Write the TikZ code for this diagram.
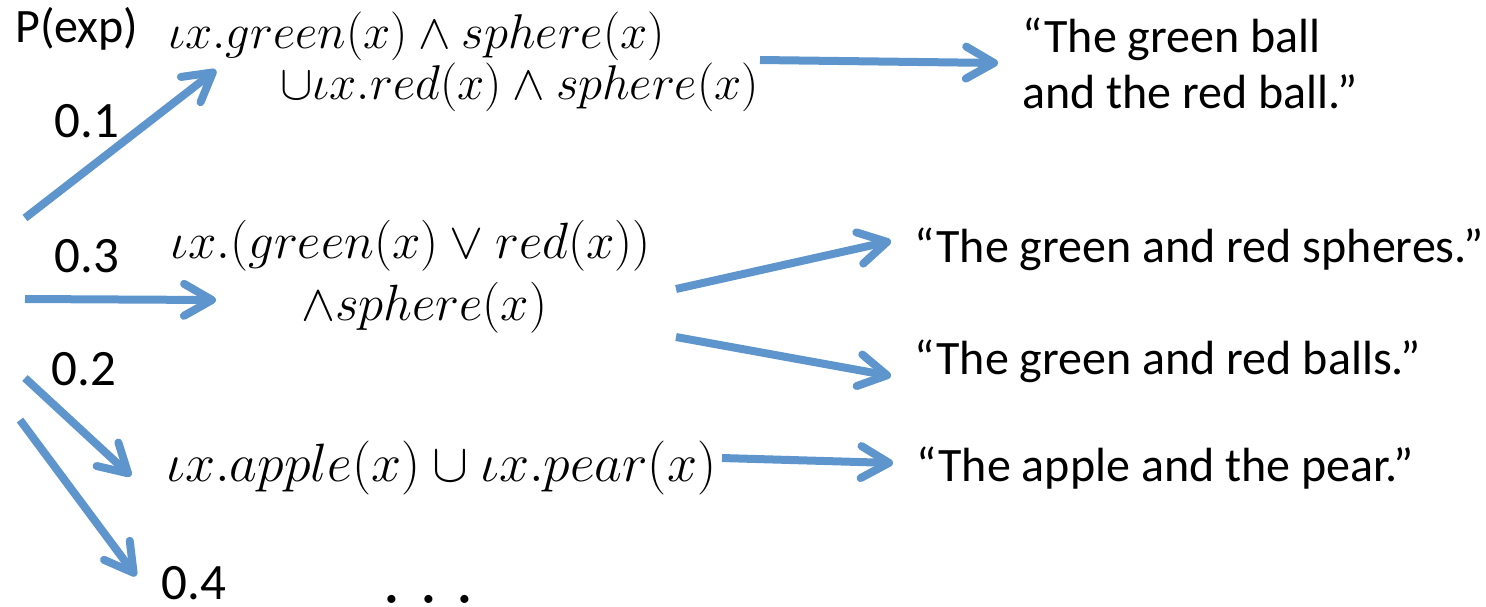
\RequirePackage{fix-cm}
\documentclass[tikz,border=0pt]{standalone}
\usepackage{fontspec}
\setmainfont{Carlito}
\usetikzlibrary{arrows.meta}
\definecolor{arrowblue}{RGB}{94,149,204}
\newcommand{\mformula}[2]{\fontsize{#1}{#1}\selectfont$#2$}
\begin{document}
\begin{tikzpicture}[x=0.5pt,y=-0.5pt,
  lbl/.style={inner sep=0pt, anchor=base west, font=\fontsize{24}{28}\selectfont},
  num/.style={inner sep=0pt, anchor=base west, font=\fontsize{25.5}{28}\selectfont},
  formula/.style={inner sep=0pt, anchor=base west},
  arr/.style={draw=arrowblue, line width=4pt,
    -{Straight Barb[length=14pt,width=16pt,round]},
    preaction={draw=black!35, opacity=0.35, transform canvas={shift={(1pt,-1.2pt)}}}}]
\useasboundingbox (0,0) rectangle (1486,606);
% labels
\node[lbl] (pexp) at (15,42) {P(exp)};
\node[num] (p1) at (54,137) {0.1};
\node[num] (p3) at (54,272) {0.3};
\node[num] (p2) at (51,385) {0.2};
\node[num] (p4) at (161,599) {0.4};
\node[formula] (dots) at (380,603) {\mformula{42}{\ldots}};
% formulas
\node[formula] (f1a) at (168,48) {\mformula{24.4}{\iota x.green(x) \wedge sphere(x)}};
\node[formula] (f1b) at (280,99) {\mformula{24.4}{\cup\iota x.red(x) \wedge sphere(x)}};
\node[formula] (f2a) at (170,258) {\mformula{25.5}{\iota x.(green(x) \vee red(x))}};
\node[formula] (f2b) at (301,320) {\mformula{25.5}{\wedge sphere(x)}};
\node[formula] (f3) at (166,481) {\mformula{27}{\iota x.apple(x) \cup \iota x.pear(x)}};
% sentences
\node[lbl] (s1a) at (1022,52) {“The green ball};
\node[lbl] (s1b) at (1022,108) {and the red ball.”};
\node[lbl] (s2) at (914,262) {“The green and red spheres.”};
\node[lbl] (s3) at (914,374) {“The green and red balls.”};
\node[lbl] (s4) at (916,481) {“The apple and the pear.”};
% arrow end points
\coordinate (r1) at (25,218);   \coordinate (t1) at (216,70);
\coordinate (r3) at (25,299);   \coordinate (t3) at (216,300);
\coordinate (r2) at (25,378);   \coordinate (t2) at (131,476);
\coordinate (r4) at (20,420);   \coordinate (t4) at (136,576);
\coordinate (a1) at (760,60);   \coordinate (b1) at (998,63);
\coordinate (a2) at (676,289);  \coordinate (b2) at (891,241);
\coordinate (a3) at (676,337);  \coordinate (b3) at (891,376);
\coordinate (a4) at (722,458);  \coordinate (b4) at (893,463);
\draw[arr] (r1) -- (t1);
\draw[arr] (r3) -- (t3);
\draw[arr] (r2) -- (t2);
\draw[arr] (r4) -- (t4);
\draw[arr] (a1) -- (b1);
\draw[arr] (a2) -- (b2);
\draw[arr] (a3) -- (b3);
\draw[arr] (a4) -- (b4);
\end{tikzpicture}
\end{document}
